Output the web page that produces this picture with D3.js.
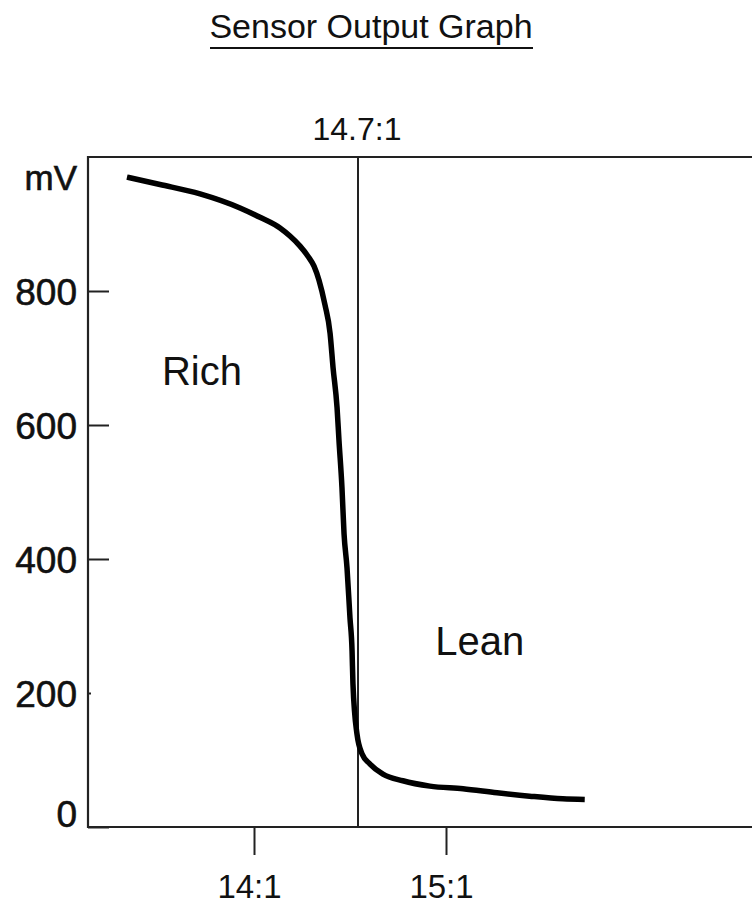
<!DOCTYPE html>
<html>
<head>
<meta charset="utf-8">
<script src="https://cdn.jsdelivr.net/npm/d3@7"></script>
<style>
  body { margin:0; background:#fff; }
  svg text { font-family: "Liberation Sans", Arial, sans-serif; fill:#111; }
</style>
</head>
<body>
<div id="plot"></div>
<script>
// chart data (air/fuel ratio vs sensor mV)
var ratioTicks = [14, 15];
var ratioTickLabels = ['14:1', '15:1'];
var mvTicks = [0, 200, 400, 600, 800];
var stoichRatio = 14.7;
var stoichLabel = '14.7:1';

var curveRatio = [13.145, 13.367, 13.637, 13.906, 14.04, 14.175, 14.242, 14.31, 14.363, 14.404,
	14.4375, 14.478, 14.512, 14.532, 14.559, 14.572, 14.592, 14.606, 14.626, 14.646, 14.66,
	14.666, 14.693, 14.714, 14.741, 14.785, 14.853, 14.945, 15.058, 15.174, 15.285, 15.398, 15.473];
var curveMv = [970, 959, 945, 924, 910, 894, 882, 867, 852, 837,
	816, 779, 737, 686, 626, 577, 507, 438, 387, 312, 263,
	214, 139, 109, 94, 79, 69, 61, 57, 51, 46, 42, 41];

var W = 752, H = 907;
var frame = {l:88, t:157, b:827};

var svg = d3.select('#plot').append('svg')
	.attr('width', W)
	.attr('height', H);

// x is not even: the 14.7 marker sits closer to 14 than 15 in the drawing
var x = d3.scaleLinear().domain([14, stoichRatio, 15]).range([254, 358, 446]);
var y = d3.scaleLinear().domain([0, 1000]).range([frame.b, frame.t]);

// title
svg.append('text')
	.attr('x', 371).attr('y', 38)
	.attr('text-anchor', 'middle')
	.style('font-size', '34px')
	.text('Sensor Output Graph');
svg.append('line')
	.attr('x1', 210).attr('x2', 533)
	.attr('y1', 48).attr('y2', 48)
	.attr('stroke', '#111').attr('stroke-width', 2);

// frame top and left/bottom axes
svg.append('line')
	.attr('x1', frame.l).attr('x2', W + 5)
	.attr('y1', frame.t).attr('y2', frame.t)
	.attr('stroke', '#222').attr('stroke-width', 2.2);

var yAxis = svg.append('g')
	.attr('transform', 'translate(' + frame.l + ',0)')
	.call(d3.axisLeft(y).tickValues(mvTicks).tickSize(-21).tickSizeOuter(0));
yAxis.select('.domain').remove();
yAxis.selectAll('.tick line')
	.attr('stroke', '#222').attr('stroke-width', 2)
	.attr('x2', function(d){ return d == 200 ? 3 : 21; });
yAxis.selectAll('.tick text')
	.attr('x', -11)
	.attr('dy', function(d){ return d == 0 ? '-0.02em' : '0.36em'; })
	.style('font-family', '"Liberation Sans", Arial, sans-serif')
	.style('font-size', '37px')
	.style('font-weight', 'normal')
	.style('stroke', '#111').style('stroke-width', 0.6)
	.style('fill', '#111');

svg.append('text')
	.attr('x', 77).attr('y', y(970) + 13)
	.attr('text-anchor', 'end')
	.style('font-size', '35px')
	.style('stroke', '#111').style('stroke-width', 0.6)
	.text('mV');

var xAxis = svg.append('g')
	.attr('transform', 'translate(0,' + frame.b + ')')
	.call(d3.axisBottom(x).tickValues(ratioTicks).tickSize(28).tickSizeOuter(0)
		.tickFormat(function(d, i){ return ratioTickLabels[i]; }));
xAxis.select('.domain').remove();
xAxis.selectAll('.tick line').attr('stroke', '#222').attr('stroke-width', 2);
xAxis.selectAll('.tick text')
	.attr('x', -5).attr('y', 48)
	.attr('dy', '0.71em')
	.style('font-family', '"Liberation Sans", Arial, sans-serif')
	.style('font-size', '33px')
	.style('fill', '#111');

svg.append('line')
	.attr('x1', frame.l).attr('x2', frame.l)
	.attr('y1', frame.t - 1).attr('y2', frame.b + 1)
	.attr('stroke', '#222').attr('stroke-width', 2.2);
svg.append('line')
	.attr('x1', frame.l).attr('x2', W + 5)
	.attr('y1', frame.b).attr('y2', frame.b)
	.attr('stroke', '#222').attr('stroke-width', 2.2);

// stoichiometric marker
svg.append('line')
	.attr('x1', x(stoichRatio)).attr('x2', x(stoichRatio))
	.attr('y1', frame.t).attr('y2', frame.b)
	.attr('stroke', '#222').attr('stroke-width', 2);
svg.append('text')
	.attr('x', x(stoichRatio) - 1).attr('y', 140)
	.attr('text-anchor', 'middle')
	.style('font-size', '32px')
	.text(stoichLabel);

// region labels
svg.append('text')
	.attr('x', x(13.38)).attr('y', y(660))
	.style('font-size', '40px')
	.text('Rich');
svg.append('text')
	.attr('x', x(14.963)).attr('y', y(256))
	.style('font-size', '40px')
	.text('Lean');

// sensor curve
var pts = curveRatio.map(function(r, i){ return [r, curveMv[i]]; });
var line = d3.line()
	.x(function(d){ return x(d[0]); })
	.y(function(d){ return y(d[1]); })
	.curve(d3.curveMonotoneX);
svg.append('path')
	.datum(pts)
	.attr('d', line)
	.attr('fill', 'none')
	.attr('stroke', '#000')
	.attr('stroke-width', 5.5);
</script>
</body>
</html>
